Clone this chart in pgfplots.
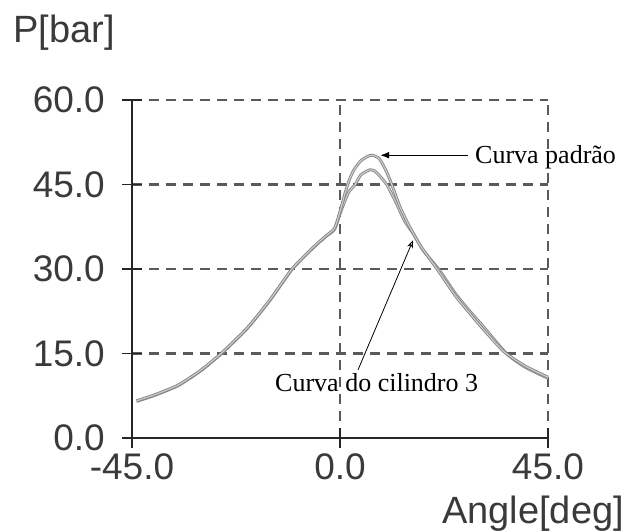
\documentclass[border=0pt]{standalone}
\usepackage{pgfplots}
\pgfplotsset{compat=1.18}
\usepackage{fontspec}
\setmainfont{Liberation Sans}
\newfontfamily\serifann{Liberation Serif}
\usetikzlibrary{arrows.meta}
\definecolor{txtgray}{HTML}{3A3A3A}
\definecolor{gridgray}{HTML}{5A5A5A}
\definecolor{curvegray}{HTML}{858585}
\definecolor{curvelight}{HTML}{CFCFCF}
\begin{document}
\begin{tikzpicture}
\path[use as bounding box] (-132pt,-94pt) rectangle (497pt,438pt);
\begin{axis}[
  at={(0,0)}, anchor=south west,
  scale only axis, width=416pt, height=338pt,
  xmin=-45, xmax=45, ymin=0, ymax=60,
  clip=false,
  axis x line*=bottom, axis y line*=left,
  axis line style={-, line width=1.6pt, color=black!85},
  xtick={-45,0,45}, xticklabels={-45.0,0.0,45.0},
  ytick={0,15,30,45,60}, yticklabels={0.0,15.0,30.0,45.0,60.0},
  tick align=center, major tick length=20pt,
  tick style={line width=1.4pt, black!85},
  ticklabel style={font=\fontsize{37}{40}\selectfont, text=txtgray},
  xticklabel style={inner sep=1pt, yshift=-4pt},
  yticklabel style={inner sep=1pt, xshift=-16pt},
  grid=major,
  major grid style={dash pattern=on 10pt off 7pt, line width=2.5pt, gridgray},
  xlabel={Angle[deg]}, ylabel={P[bar]},
  label style={font=\fontsize{38}{40}\selectfont, text=txtgray},
  xlabel style={at={(axis description cs:1.183,-0.252)}, anchor=base east, inner sep=0pt},
  ylabel style={at={(axis description cs:-0.286,1.169)}, anchor=base west, rotate=-90, inner sep=0pt},
]
% Curva do cilindro 3
\addplot[curvegray, line width=0.9pt, double=curvelight, double distance=1.1pt, smooth, tension=0.35] coordinates {
(-44,6.5) (-40,7.6) (-35,9.3) (-30,12.0) (-25.6,15.0) (-20,19.5) (-15,24.6) (-10.4,29.9) (-6,33.6) (-3,35.8) (-1.2,37.0)
(0,39.8) (1,42.0) (2,43.8) (3.3,45.0) (4.5,46.7) (6.4,47.6) (7.5,47.4) (8.5,46.6) (10.1,45.0) (12,42.0) (14,38.5) (15.9,36.2) (18,33.3) (21.5,29.8) (25,25.6) (28,22.6) (31,19.8) (36,15.0) (40,12.6) (45,10.6)
};
% Curva padrao
\addplot[curvegray, line width=0.9pt, double=curvelight, double distance=1.1pt, smooth, tension=0.35] coordinates {
(-44,6.6) (-40,7.7) (-35,9.4) (-30,12.1) (-25.6,15.1) (-20,19.6) (-15,24.7) (-10.4,30.0) (-6,33.7) (-3,35.9) (-1.2,37.2)
(0,40.2) (1,43.2) (2,45.8) (3,47.6) (4.5,49.2) (6,50.0) (7,50.2) (8.5,49.6) (10,47.4) (11.2,45.0) (13,41.0) (15,37.6) (17.5,34.0) (21,30.0) (25,25.2) (28,22.2) (31,19.3) (35.5,15.3) (40,12.8) (45,10.8)
};
\draw[line width=1.2pt, -{Latex[length=9pt,width=7pt]}] (axis cs:27.7,50.2) -- (axis cs:8.7,50.2);
\draw[line width=0.8pt, -{Stealth[length=8pt,width=6pt,open]}] (axis cs:3.9,12.1) -- (axis cs:15.8,35.1);
\node[anchor=base west, inner sep=0pt, font=\serifann\fontsize{26}{28}\selectfont] at (axis cs:29.2,48.8) {Curva padrão};
\node[anchor=base west, inner sep=0pt, font=\serifann\fontsize{26}{28}\selectfont] at (axis cs:-14.06,8.17) {Curva do cilindro 3};
\end{axis}
\end{tikzpicture}
\end{document}
